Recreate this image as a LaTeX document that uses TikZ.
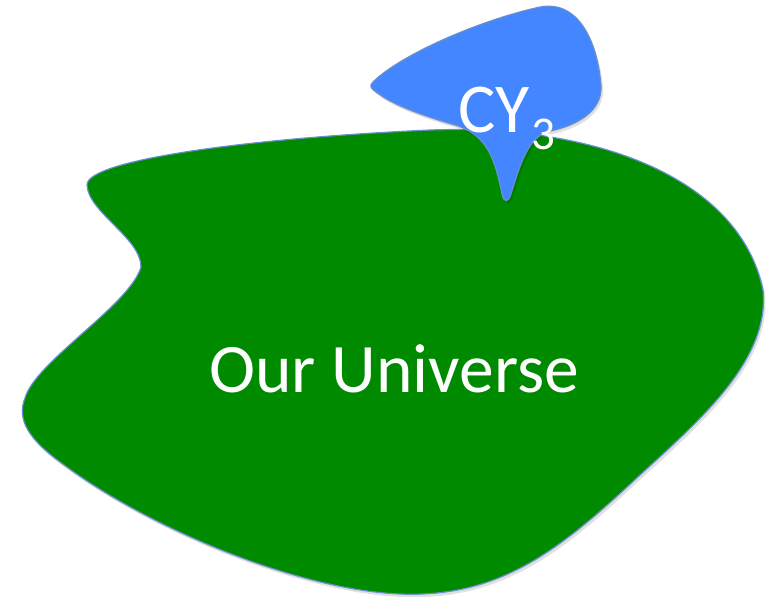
\documentclass[tikz,border=0pt]{standalone}
\usepackage{fontspec}
\setmainfont{Carlito}
\tikzset{
  blobline/.style={draw={rgb,255:red,106;green,143;blue,208}, line width=1.2pt, line join=round},
  shade/.style={fill=black, opacity=0.12, draw=none},
  lbl/.style={text=white, inner sep=0pt, anchor=base west}
}
\definecolor{univgreen}{RGB}{0,138,0}
\definecolor{cyblue}{RGB}{68,134,255}
\begin{document}
\begin{tikzpicture}[x=1pt,y=-1pt]
\useasboundingbox (0,0) rectangle (773,598);
% green blob
\def\greenpath{(87,185) .. controls (86,160) and (250,138) .. (430,130)
  .. controls (600,124) and (740,180) .. (763,290)
  .. controls (770,360) and (700,420) .. (640,475)
  .. controls (560,550) and (500,598) .. (400,594)
  .. controls (300,590) and (150,530) .. (60,462)
  .. controls (30,440) and (16,420) .. (25,398)
  .. controls (35,362) and (130,305) .. (141,267)
  .. controls (141,238) and (88,212) .. (87,185) -- cycle}
\fill[shade] [shift={(2,3)}] \greenpath;
\path[fill=univgreen, blobline] \greenpath;
% blue shape
\def\bluepath{(373,82) .. controls (400,55) and (480,20) .. (540,7)
  .. controls (578,0) and (597,40) .. (601,85)
  .. controls (603,112) and (575,126) .. (550,131)
  .. controls (528,136) and (520,165) .. (511,194)
  .. controls (508,203) and (504,203) .. (502,194)
  .. controls (495,160) and (488,135) .. (455,125)
  .. controls (420,115) and (392,104) .. (379,94)
  .. controls (370,88) and (369,86) .. (373,82) -- cycle}
\fill[shade] [shift={(2,3)}] \bluepath;
\path[fill=cyblue, blobline] \bluepath;
\node[lbl, font=\fontsize{69.5}{80}\selectfont] (univ) at (209,392) {Our Universe};
\node[lbl, font=\fontsize{70}{80}\selectfont] (cy) at (458,132) {CY};
\node[lbl, font=\fontsize{47}{54}\selectfont] (three) at (cy.base east) [yshift=-17pt, xshift=1pt] {3};
\end{tikzpicture}
\end{document}
